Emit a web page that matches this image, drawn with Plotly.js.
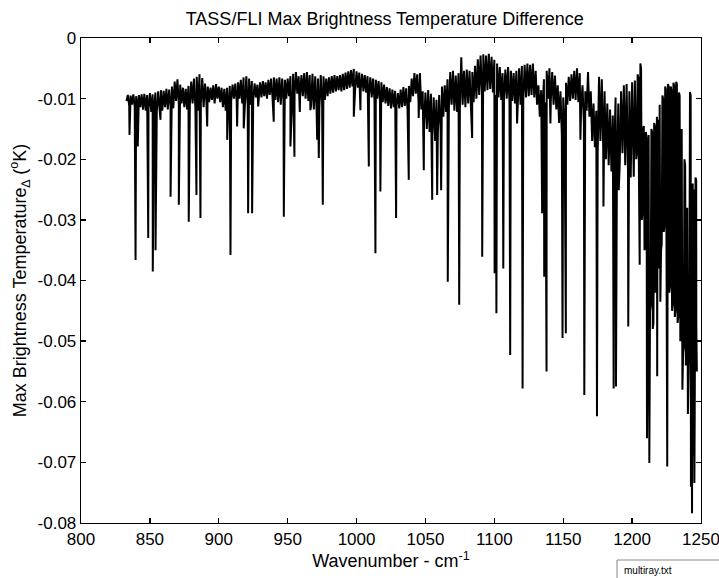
<!DOCTYPE html>
<html>
<head>
<meta charset="utf-8">
<script src="https://cdn.plot.ly/plotly-3.0.1.min.js"></script>
<style>html,body{margin:0;padding:0;background:#fff;}#chart{width:719px;height:578px;}</style>
</head>
<body>
<div id="chart"></div>
<script>
// Baseline band of the spectrum, sampled every 1 cm-1 starting at 833 cm-1
const baseStart = 833;
const baseStep = 1;
const baseDT = [
-0.0104,-0.0094,-0.0112,-0.0095,-0.0110,-0.0093,-0.0114,-0.0096,-0.0110,-0.0094,
-0.0114,-0.0093,-0.0118,-0.0092,-0.0120,-0.0094,-0.0116,-0.0091,-0.0122,-0.0093,
-0.0118,-0.0090,-0.0122,-0.0088,-0.0116,-0.0086,-0.0120,-0.0087,-0.0114,-0.0084,
-0.0118,-0.0085,-0.0112,-0.0080,-0.0116,-0.0072,-0.0104,-0.0068,-0.0110,-0.0077,
-0.0108,-0.0082,-0.0114,-0.0084,-0.0118,-0.0079,-0.0110,-0.0072,-0.0108,-0.0067,
-0.0114,-0.0064,-0.0120,-0.0060,-0.0108,-0.0066,-0.0114,-0.0075,-0.0104,-0.0080,
-0.0106,-0.0082,-0.0102,-0.0078,-0.0108,-0.0076,-0.0100,-0.0080,-0.0106,-0.0082,
-0.0114,-0.0084,-0.0120,-0.0082,-0.0110,-0.0079,-0.0104,-0.0077,-0.0100,-0.0075,
-0.0104,-0.0073,-0.0100,-0.0069,-0.0108,-0.0065,-0.0114,-0.0063,-0.0110,-0.0067,
-0.0110,-0.0071,-0.0102,-0.0075,-0.0098,-0.0077,-0.0096,-0.0073,-0.0098,-0.0071,
-0.0096,-0.0073,-0.0100,-0.0069,-0.0094,-0.0067,-0.0098,-0.0065,-0.0102,-0.0067,
-0.0106,-0.0065,-0.0110,-0.0067,-0.0104,-0.0069,-0.0100,-0.0067,-0.0096,-0.0063,
-0.0098,-0.0059,-0.0094,-0.0056,-0.0092,-0.0063,-0.0098,-0.0061,-0.0096,-0.0058,
-0.0100,-0.0056,-0.0104,-0.0061,-0.0112,-0.0059,-0.0118,-0.0063,-0.0120,-0.0067,
-0.0116,-0.0061,-0.0108,-0.0063,-0.0102,-0.0067,-0.0096,-0.0065,-0.0092,-0.0063,
-0.0090,-0.0061,-0.0088,-0.0063,-0.0086,-0.0061,-0.0088,-0.0059,-0.0086,-0.0057,
-0.0084,-0.0055,-0.0082,-0.0053,-0.0080,-0.0051,-0.0084,-0.0055,-0.0082,-0.0057,
-0.0086,-0.0059,-0.0088,-0.0061,-0.0090,-0.0063,-0.0094,-0.0065,-0.0098,-0.0067,
-0.0102,-0.0069,-0.0100,-0.0071,-0.0104,-0.0073,-0.0106,-0.0077,-0.0108,-0.0081,
-0.0112,-0.0083,-0.0116,-0.0085,-0.0114,-0.0087,-0.0112,-0.0091,-0.0116,-0.0085,
-0.0114,-0.0081,-0.0112,-0.0083,-0.0118,-0.0079,-0.0106,-0.0067,-0.0096,-0.0058,
-0.0092,-0.0060,-0.0106,-0.0058,-0.0118,-0.0088,-0.0140,-0.0090,-0.0150,-0.0086,
-0.0155,-0.0092,-0.0160,-0.0098,-0.0170,-0.0102,-0.0158,-0.0094,-0.0150,-0.0080,
-0.0130,-0.0078,-0.0122,-0.0068,-0.0118,-0.0056,-0.0110,-0.0054,-0.0120,-0.0062,
-0.0122,-0.0058,-0.0114,-0.0032,-0.0110,-0.0054,-0.0114,-0.0052,-0.0108,-0.0054,
-0.0116,-0.0056,-0.0106,-0.0046,-0.0100,-0.0035,-0.0094,-0.0029,-0.0090,-0.0027,
-0.0088,-0.0029,-0.0086,-0.0026,-0.0084,-0.0031,-0.0090,-0.0036,-0.0094,-0.0042,
-0.0098,-0.0048,-0.0102,-0.0058,-0.0098,-0.0052,-0.0100,-0.0048,-0.0106,-0.0054,
-0.0104,-0.0058,-0.0108,-0.0054,-0.0114,-0.0050,-0.0110,-0.0046,-0.0102,-0.0044,
-0.0098,-0.0042,-0.0096,-0.0044,-0.0094,-0.0042,-0.0098,-0.0054,-0.0110,-0.0078,
-0.0130,-0.0086,-0.0120,-0.0068,-0.0106,-0.0054,-0.0100,-0.0050,-0.0104,-0.0056,
-0.0110,-0.0062,-0.0118,-0.0078,-0.0140,-0.0088,-0.0160,-0.0098,-0.0140,-0.0074,
-0.0110,-0.0064,-0.0104,-0.0060,-0.0100,-0.0054,-0.0102,-0.0050,-0.0106,-0.0058,
-0.0114,-0.0078,-0.0140,-0.0088,-0.0120,-0.0056,-0.0130,-0.0088,-0.0170,-0.0108,
-0.0180,-0.0120,-0.0190,-0.0064,-0.0170,-0.0068,-0.0180,-0.0088,-0.0200,-0.0108,
-0.0210,-0.0118,-0.0220,-0.0128,-0.0190,-0.0098,-0.0200,-0.0108,-0.0210,-0.0088,
-0.0190,-0.0078,-0.0210,-0.0076,-0.0220,-0.0088,-0.0230,-0.0073,-0.0220,-0.0070,
-0.0200,-0.0060,-0.0240,-0.0042,-0.0300,-0.0150,-0.0350,-0.0155,-0.0400,-0.0160,
-0.0450,-0.0150,-0.0480,-0.0140,-0.0420,-0.0130,-0.0380,-0.0110,-0.0350,-0.0095,
-0.0320,-0.0080,-0.0380,-0.0076,-0.0420,-0.0080,-0.0450,-0.0074,-0.0460,-0.0072,
-0.0470,-0.0090,-0.0500,-0.0150,-0.0520,-0.0200,-0.0540,-0.0280,-0.0500,-0.0089,
-0.0560,-0.0240,-0.0600,-0.0230,-0.0550
];

// Extra samples in the dense 1203-1247 cm-1 band
const fineWn = [
1203.5, 1204.5, 1206.5, 1207.5, 1208.5, 1209.5, 1210.5, 1211.5, 1213.5, 1214.5,
1215.5, 1216.5, 1217.5, 1218.5, 1219.5, 1221.5, 1222.5, 1223.5, 1224.5, 1226.5,
1227.5, 1228.5, 1229.5, 1230.5, 1231.5, 1232.5, 1233.5, 1234.5, 1235.5, 1237.5,
1238.5, 1239.5, 1241.5, 1242.5, 1244.5, 1245.5, 1246.5
];
const fineDT = [
-0.0190,-0.0065,-0.0050,-0.0290,-0.0145,-0.0340,-0.0165,-0.0390,-0.0440,-0.0155,
-0.0470,-0.0145,-0.0410,-0.0135,-0.0370,-0.0340,-0.0100,-0.0310,-0.0085,-0.0080,
-0.0410,-0.0085,-0.0440,-0.0078,-0.0450,-0.0076,-0.0460,-0.0095,-0.0490,-0.0510,
-0.0210,-0.0530,-0.0490,-0.0095,-0.0250,-0.0590,-0.0235
];

// Absorption-line minima (wavenumber, depth)
const lineWn = [
835.2, 839.6, 841.2, 848.8, 852.1, 854.1, 857.7, 865.0, 871.0, 878.2,
883.8, 886.7, 891.6, 906.1, 908.5, 913.3, 918.1, 921.3, 924.2, 928.6,
939.9, 947.2, 952.0, 954.9, 958.8, 966.5, 971.4, 972.6, 975.5, 998.0,
1002.8, 1008.9, 1013.7, 1017.3, 1028.7, 1037.9, 1045.1, 1048.8, 1054.9, 1058.5,
1061.4, 1066.2, 1074.5, 1083.9, 1091.2, 1100.2, 1101.5, 1106.5, 1111.5, 1116.5,
1120.5, 1134.7, 1136.2, 1137.9, 1140.7, 1149.5, 1151.9, 1162.5, 1165.3, 1174.5,
1179.2, 1186.6, 1188.3, 1190.3, 1197.2, 1201.2, 1205.5, 1210.8, 1212.5, 1218.2,
1220.5, 1225.5, 1228.8, 1236.5, 1239.2, 1240.5, 1242.7, 1243.5, 1244.3, 1245.2,
1246.6
];
const lineDT = [
-0.0160,-0.0366,-0.0179,-0.0330,-0.0385,-0.0350,-0.0135,-0.0262,-0.0275,-0.0303,
-0.0259,-0.0297,-0.0146,-0.0168,-0.0358,-0.0146,-0.0149,-0.0289,-0.0289,-0.0113,
-0.0138,-0.0295,-0.0179,-0.0196,-0.0122,-0.0119,-0.0168,-0.0198,-0.0275,-0.0130,
-0.0119,-0.0212,-0.0355,-0.0253,-0.0297,-0.0234,-0.0132,-0.0218,-0.0267,-0.0259,
-0.0251,-0.0402,-0.0440,-0.0165,-0.0361,-0.0388,-0.0454,-0.0380,-0.0523,-0.0141,
-0.0578,-0.0289,-0.0394,-0.0550,-0.0141,-0.0495,-0.0487,-0.0168,-0.0589,-0.0624,
-0.0278,-0.0578,-0.0575,-0.0251,-0.0476,-0.0229,-0.0374,-0.0660,-0.0701,-0.0558,
-0.0435,-0.0707,-0.0339,-0.0580,-0.0443,-0.0620,-0.0740,-0.0784,-0.0690,-0.0734,
-0.0476
];

const xTickVals = [800, 850, 900, 950, 1000, 1050, 1100, 1150, 1200, 1250];
const xTickText = ['800','850','900','950','1000','1050','1100','1150','1200','1250'];
const yTickVals = [0, -0.01, -0.02, -0.03, -0.04, -0.05, -0.06, -0.07, -0.08];
const yTickText = ['0','-0.01','-0.02','-0.03','-0.04','-0.05','-0.06','-0.07','-0.08'];

const pts = baseDT.map((v, i) => [baseStart + i * baseStep, v]);
fineWn.forEach((w, i) => pts.push([w, fineDT[i]]));
lineWn.forEach((w, i) => pts.push([w, lineDT[i]]));
pts.sort((a, b) => a[0] - b[0]);

const FONT = 'Liberation Sans, Arial, Helvetica, sans-serif';

const trace = {
  x: pts.map(p => p[0]),
  y: pts.map(p => p[1]),
  type: 'scatter',
  mode: 'lines',
  line: {color: '#000', width: 2},
  hoverinfo: 'skip'
};

const axisCommon = {
  showline: true, linecolor: '#000', linewidth: 1.3, mirror: 'ticks',
  ticks: 'inside', ticklen: 5, tickwidth: 1.3, tickcolor: '#000',
  showgrid: false, zeroline: false, ticklabeloverflow: 'allow',
  tickfont: {family: FONT, size: 17, color: '#000'}
};

const layout = {
  width: 719, height: 578,
  margin: {l: 81, r: 18, t: 38, b: 55},
  paper_bgcolor: '#fff', plot_bgcolor: '#fff',
  showlegend: false,
  font: {family: FONT, color: '#000'},
  title: {
    text: 'TASS/FLI Max Brightness Temperature Difference',
    font: {family: FONT, size: 18, color: '#000'},
    xref: 'paper', x: 0.49, xanchor: 'center',
    yref: 'container', y: 0.968, yanchor: 'middle'
  },
  xaxis: Object.assign({}, axisCommon, {
    range: [800, 1250], tickmode: 'array', tickvals: xTickVals, ticktext: xTickText,
    title: {text: 'Wavenumber - cm<sup>-1</sup>', font: {family: FONT, size: 18, color: '#000'}, standoff: 4}
  }),
  yaxis: Object.assign({}, axisCommon, {
    range: [-0.08, 0], tickmode: 'array', tickvals: yTickVals, ticktext: yTickText,
    title: {text: 'Max Brightness Temperature<sub>\u2206</sub> (<sup>o</sup>K)', font: {family: FONT, size: 18, color: '#000'}, standoff: 6}
  }),
  shapes: [{
    type: 'rect', xref: 'paper', yref: 'paper',
    x0: (617 - 81) / 620, x1: (740 - 81) / 620,
    y0: (523 - 560) / 485, y1: (523 - 600) / 485,
    line: {color: '#888', width: 1}, fillcolor: '#fff'
  }],
  annotations: [{
    text: 'multiray.txt', xref: 'paper', yref: 'paper',
    x: (622 - 81) / 620, y: (523 - 570) / 485, xanchor: 'left', yanchor: 'middle',
    showarrow: false, font: {family: FONT, size: 10, color: '#000'}
  }]
};

Plotly.newPlot('chart', [trace], layout, {staticPlot: true, displayModeBar: false});
</script>
</body>
</html>
